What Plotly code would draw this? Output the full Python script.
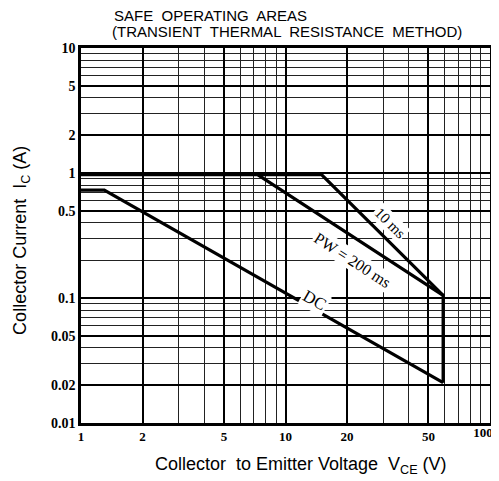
import plotly.graph_objects as go

# Data
dc_v = [1.0, 1.3, 59.0]
dc_i = [0.73, 0.73, 0.021]
pw200_v = [1.0, 7.3, 59.0, 59.0]
pw200_i = [0.97, 0.97, 0.105, 0.021]
ms10_v = [7.3, 15.0, 59.0]
ms10_i = [0.97, 0.97, 0.105]

x_ticks = [1, 2, 5, 10, 20, 50]
x_tick_text = ["1", "2", "5", "10", "20", "50"]
x_end_tick = [100]
x_end_tick_text = ["100"]
y_ticks = [0.01, 0.02, 0.05, 0.1, 0.5, 1, 2, 5, 10]
y_tick_text = ["0.01", "0.02", "0.05", "0.1", "0.5", "1", "2", "5", "10"]

fig = go.Figure()
line_style = dict(color="black", width=3.2)
fig.add_trace(go.Scatter(x=dc_v, y=dc_i, mode="lines", line=line_style, showlegend=False))
fig.add_trace(go.Scatter(x=pw200_v, y=pw200_i, mode="lines", line=line_style, showlegend=False))
# drawn on the overlaying x axis (identical log scale) so that axis is rendered
fig.add_trace(go.Scatter(x=ms10_v, y=ms10_i, mode="lines", line=line_style, showlegend=False,
                         xaxis="x2", yaxis="y"))

serif = "Liberation Serif, Times New Roman, serif"
sans = "Liberation Sans, Arial, sans-serif"

axis_common = dict(
    type="log",
    showline=True, linecolor="black", linewidth=2.5, mirror=True,
    showgrid=True, gridcolor="black", gridwidth=1.6,
    ticks="", zeroline=False,
    ticklabeloverflow="allow",
    minor=dict(showgrid=True, gridcolor="#222222", gridwidth=0.9, dtick="D1"),
)

xfont = dict(family=serif, size=13, color="black", weight="bold")

fig.update_xaxes(range=[0, 2], tickvals=x_ticks, ticktext=x_tick_text,
                 tickfont=xfont, **axis_common)
fig.update_yaxes(range=[-2, 1], tickvals=y_ticks, ticktext=y_tick_text,
                 tickfont=dict(family=serif, size=14, color="black", weight="bold"),
                 **axis_common)

fig.update_layout(
    xaxis2=dict(type="log", range=[0, 2], overlaying="x", anchor="y", side="bottom",
                tickvals=x_end_tick, ticktext=x_end_tick_text, tickfont=xfont,
                showgrid=False, showline=False, zeroline=False, ticks="",
                ticklabeloverflow="allow", ticklabelshift=-7),
)

annotations = [
    dict(x=0.076, y=1.087, xref="paper", yref="paper", xanchor="left", yanchor="middle",
         text="SAFE  OPERATING  AREAS", showarrow=False,
         font=dict(family=sans, size=15, color="black")),
    dict(x=0.071, y=1.045, xref="paper", yref="paper", xanchor="left", yanchor="middle",
         text="(TRANSIENT  THERMAL  RESISTANCE  METHOD)", showarrow=False,
         font=dict(family=sans, size=15, color="black")),
    dict(x=0.539, y=-0.112, xref="paper", yref="paper", xanchor="center", yanchor="middle",
         text="Collector  to Emitter Voltage  V<sub>CE</sub> (V)", showarrow=False,
         font=dict(family=sans, size=18, color="black")),
    dict(x=-0.147, y=0.488, xref="paper", yref="paper", xanchor="center", yanchor="middle",
         text="Collector Current  I<sub>C</sub> (A)", showarrow=False, textangle=-90,
         font=dict(family=sans, size=18, color="black")),
    dict(x=1.511, y=-0.40, xref="x", yref="y", text="10 ms", showarrow=False, textangle=45,
         font=dict(family=serif, size=15, color="black"), bgcolor="white"),
    dict(x=1.330, y=-0.696, xref="x", yref="y", text="PW = 200 ms", showarrow=False, textangle=33,
         font=dict(family=serif, size=16, color="black"), bgcolor="white"),
    dict(x=1.144, y=-1.016, xref="x", yref="y", text="DC", showarrow=False, textangle=30,
         font=dict(family=serif, size=17, color="black"), bgcolor="white"),
]

# The page body adds an 8px offset; size and margins compensate for it.
fig.update_layout(
    width=491, height=473,
    margin=dict(l=73, r=9, t=40, b=58, autoexpand=False),
    paper_bgcolor="white", plot_bgcolor="white",
    annotations=annotations,
)

fig.write_html("out.html")
